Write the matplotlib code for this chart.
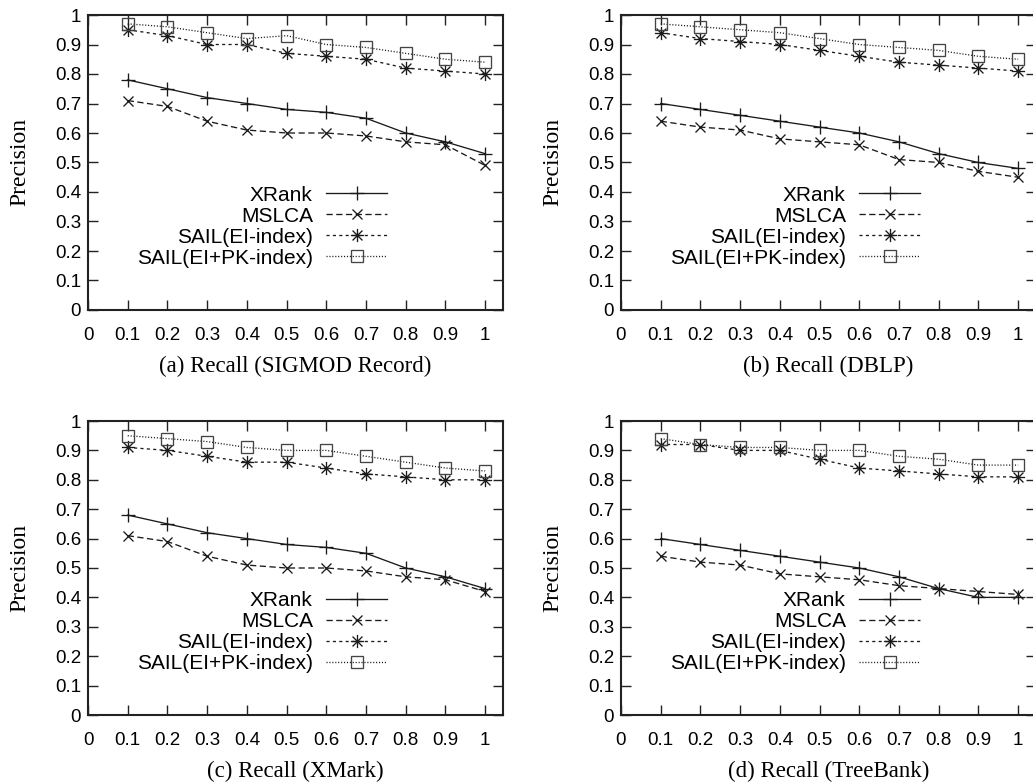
import matplotlib
matplotlib.use("Agg")
import matplotlib.pyplot as plt
from matplotlib.path import Path

# ---------------- data ----------------
recall = [0.1, 0.2, 0.3, 0.4, 0.5, 0.6, 0.7, 0.8, 0.9, 1.0]
series_names = ["XRank", "MSLCA", "SAIL(EI-index)", "SAIL(EI+PK-index)"]
captions = ["(a) Recall (SIGMOD Record)", "(b) Recall (DBLP)",
            "(c) Recall (XMark)", "(d) Recall (TreeBank)"]

sigmod_xrank = [0.78, 0.75, 0.72, 0.70, 0.68, 0.67, 0.65, 0.60, 0.57, 0.53]
sigmod_mslca = [0.71, 0.69, 0.64, 0.61, 0.60, 0.60, 0.59, 0.57, 0.56, 0.49]
sigmod_ei = [0.95, 0.93, 0.90, 0.90, 0.87, 0.86, 0.85, 0.82, 0.81, 0.80]
sigmod_eipk = [0.97, 0.96, 0.94, 0.92, 0.93, 0.90, 0.89, 0.87, 0.85, 0.84]

dblp_xrank = [0.70, 0.68, 0.66, 0.64, 0.62, 0.60, 0.57, 0.53, 0.50, 0.48]
dblp_mslca = [0.64, 0.62, 0.61, 0.58, 0.57, 0.56, 0.51, 0.50, 0.47, 0.45]
dblp_ei = [0.94, 0.92, 0.91, 0.90, 0.88, 0.86, 0.84, 0.83, 0.82, 0.81]
dblp_eipk = [0.97, 0.96, 0.95, 0.94, 0.92, 0.90, 0.89, 0.88, 0.86, 0.85]

xmark_xrank = [0.68, 0.65, 0.62, 0.60, 0.58, 0.57, 0.55, 0.50, 0.47, 0.43]
xmark_mslca = [0.61, 0.59, 0.54, 0.51, 0.50, 0.50, 0.49, 0.47, 0.46, 0.42]
xmark_ei = [0.91, 0.90, 0.88, 0.86, 0.86, 0.84, 0.82, 0.81, 0.80, 0.80]
xmark_eipk = [0.95, 0.94, 0.93, 0.91, 0.90, 0.90, 0.88, 0.86, 0.84, 0.83]

treebank_xrank = [0.60, 0.58, 0.56, 0.54, 0.52, 0.50, 0.47, 0.43, 0.40, 0.40]
treebank_mslca = [0.54, 0.52, 0.51, 0.48, 0.47, 0.46, 0.44, 0.43, 0.42, 0.41]
treebank_ei = [0.92, 0.92, 0.90, 0.90, 0.87, 0.84, 0.83, 0.82, 0.81, 0.81]
treebank_eipk = [0.94, 0.92, 0.91, 0.91, 0.90, 0.90, 0.88, 0.87, 0.85, 0.85]

xticks = [0, 0.1, 0.2, 0.3, 0.4, 0.5, 0.6, 0.7, 0.8, 0.9, 1.0]
xtick_labels = ["0", "0.1", "0.2", "0.3", "0.4", "0.5", "0.6", "0.7", "0.8", "0.9", "1"]
yticks = [0, 0.1, 0.2, 0.3, 0.4, 0.5, 0.6, 0.7, 0.8, 0.9, 1.0]
ytick_labels = ["0", "0.1", "0.2", "0.3", "0.4", "0.5", "0.6", "0.7", "0.8", "0.9", "1"]

panels = [
    [sigmod_xrank, sigmod_mslca, sigmod_ei, sigmod_eipk],
    [dblp_xrank, dblp_mslca, dblp_ei, dblp_eipk],
    [xmark_xrank, xmark_mslca, xmark_ei, xmark_eipk],
    [treebank_xrank, treebank_mslca, treebank_ei, treebank_eipk],
]

# ---------------- style ----------------
plt.rcParams["lines.scale_dashes"] = False
SANS = ["Liberation Sans", "DejaVu Sans"]
SERIF = ["Liberation Serif", "DejaVu Serif"]

# gnuplot-like asterisk (+ and x overlaid)
d = 0.75
asterisk = Path(
    [(-1, 0), (1, 0), (0, -1), (0, 1), (-d, -d), (d, d), (-d, d), (d, -d)],
    [Path.MOVETO, Path.LINETO] * 4,
)

styles = [
    dict(linestyle="-", marker="+", markersize=9.5),
    dict(linestyle=(0, (4.5, 2.5)), marker="x", markersize=7.5),
    dict(linestyle=(0, (2.2, 2.4)), marker=asterisk, markersize=9.5),
    dict(linestyle=(0, (0.8, 1.3)), marker="s", markersize=8.5, markerfacecolor="none",
         markeredgecolor="#444444"),
]

W, H = 1033, 783
fig = plt.figure(figsize=(W / 100, H / 100), dpi=100)

# axes positions in pixels: (left, top, width, height)
pix = [(88, 15, 415, 295), (621, 15, 415, 295),
       (88, 421, 415, 294), (621, 421, 415, 294)]

for idx, (vals, cap, (l, t, w, h)) in enumerate(zip(panels, captions, pix)):
    ax = fig.add_axes([l / W, 1 - (t + h) / H, w / W, h / H])
    for name, y, st in zip(series_names, vals, styles):
        kw = dict(color="#1a1a1a", linewidth=0.95, markeredgewidth=0.95)
        kw.update(st)
        ax.plot(recall, y, label=name, clip_on=False, **kw)
    ax.set_xlim(0, 1.045)
    ax.set_ylim(0, 1)
    ax.set_xticks(xticks)
    ax.set_xticklabels(xtick_labels)
    ax.set_yticks(yticks)
    ax.set_yticklabels(ytick_labels)
    ax.tick_params(direction="in", length=7, width=1.0, top=True, right=True,
                   labelsize=13.5, color="#222222")
    ax.tick_params(axis="x", pad=12)
    ax.tick_params(axis="y", pad=5)
    for lab in ax.get_xticklabels() + ax.get_yticklabels():
        lab.set_family(SANS)
    for sp in ax.spines.values():
        sp.set_linewidth(1.5)
        sp.set_color("#222222")
    ax.set_ylabel("Precision", family=SERIF, fontsize=17)
    ax.yaxis.set_label_coords(-58 / w, 0.5)
    ax.set_xlabel(cap, family=SERIF, fontsize=16.5, labelpad=9)
    leg = ax.legend(loc="upper right", bbox_to_anchor=(0.72, 0.422), frameon=False,
                    markerfirst=False, prop={"family": SANS, "size": 15},
                    handlelength=2.9, handletextpad=0.65, labelspacing=0.1,
                    borderaxespad=0, borderpad=0, numpoints=1)

fig.savefig("out.png", dpi=100)
